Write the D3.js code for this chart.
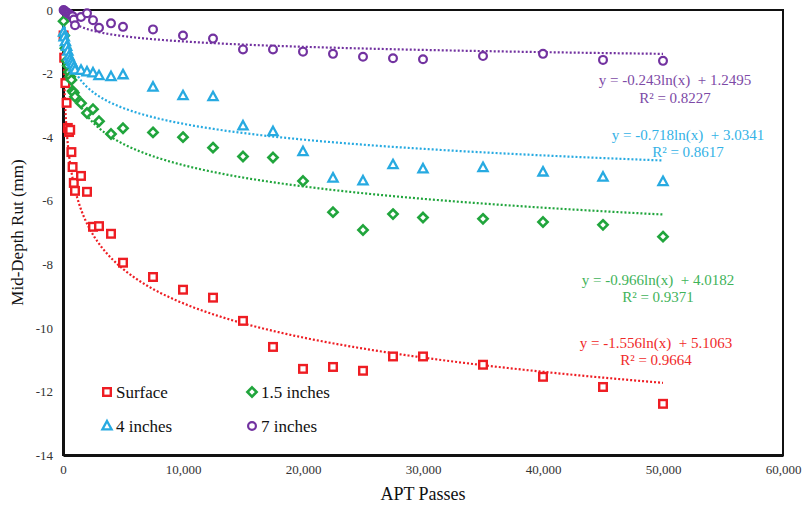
<!DOCTYPE html>
<html>
<head>
<meta charset="utf-8">
<script src="https://cdn.jsdelivr.net/npm/d3@7"></script>
<style>
  html, body { margin: 0; padding: 0; background: #fff; }
  svg { display: block; font-family: "Liberation Serif", "Times New Roman", serif; }
  .axis text { font-family: "Liberation Serif", "Times New Roman", serif; }
</style>
</head>
<body>
<svg id="chart" width="802" height="508"></svg>
<script>
// APT pass counts at which rut depth was measured
const passes = [50, 100, 200, 300, 400, 500, 600, 700, 800, 900, 1000, 1500, 2000, 2500, 3000, 4000,
  5000, 7500, 10000, 12500, 15000, 17500, 20000, 22500, 25000, 27500, 30000, 35000, 40000, 45000, 50000];

// Mid-depth rut (mm) at each depth
const surface = [-0.8, -1.5, -2.3, -2.92, -3.71, -3.84, -3.77, -4.47, -4.94, -5.44, -5.69, -5.22, -5.72, -6.82, -6.8, -7.04,
  -7.95, -8.4, -8.8, -9.05, -9.78, -10.6, -11.29, -11.23, -11.35, -10.9, -10.9, -11.16, -11.54, -11.86, -12.39];
const inch15 = [-0.35, -0.8, -1.2, -1.6, -1.75, -1.95, -2.1, -2.2, -2.55, -2.6, -2.73, -2.93, -3.24, -3.12, -3.5, -3.9,
  -3.72, -3.85, -4.0, -4.33, -4.61, -4.64, -5.38, -6.36, -6.92, -6.42, -6.53, -6.57, -6.67, -6.76, -7.13];
const inch4 = [-0.7, -0.85, -1.0, -1.15, -1.3, -1.45, -1.55, -1.63, -1.7, -1.8, -1.89, -1.9, -1.95, -1.98, -2.07, -2.1,
  -2.04, -2.43, -2.7, -2.73, -3.65, -3.83, -4.46, -5.29, -5.38, -4.87, -5.0, -4.96, -5.1, -5.26, -5.4];
const inch7 = [0.0, -0.02, -0.05, -0.08, -0.1, -0.12, -0.15, -0.18, -0.2, -0.3, -0.48, -0.22, -0.1, -0.32, -0.56, -0.42,
  -0.53, -0.61, -0.8, -0.9, -1.24, -1.24, -1.31, -1.38, -1.47, -1.52, -1.55, -1.45, -1.38, -1.57, -1.6];

// Logarithmic trend fits: y = a ln(x) + b
const seriesNames = ["Surface", "1.5 inches", "4 inches", "7 inches"];
const fitA = [-1.556, -0.966, -0.718, -0.243];
const fitB = [5.1063, 4.0182, 3.0341, 1.2495];
const fitR2 = ["0.9664", "0.9371", "0.8617", "0.8227"];

const xTicks = [0, 10000, 20000, 30000, 40000, 50000, 60000];
const yTicks = [0, -2, -4, -6, -8, -10, -12, -14];

const colors = ["#ee1d23", "#20a53c", "#27aae1", "#7232a0"];
const textColors = ["#f02a2a", "#3fb35a", "#34b2e6", "#7d4aa6"];
const shapes = ["square", "diamond", "triangle", "circle"];
const values = [surface, inch15, inch4, inch7];

const svg = d3.select("#chart");
const m = { left: 63, top: 10, right: 19, bottom: 53 };
const W = 802 - m.left - m.right, H = 508 - m.top - m.bottom;

const x = d3.scaleLinear().domain([0, 60000]).range([m.left, m.left + W]);
const y = d3.scaleLinear().domain([-14, 0]).range([m.top + H, m.top]);

svg.append("defs").append("clipPath").attr("id", "plotClip")
  .append("rect").attr("x", m.left).attr("y", m.top).attr("width", W).attr("height", H);

// Plot frame
svg.append("rect").attr("x", m.left).attr("y", m.top).attr("width", W).attr("height", H)
  .attr("fill", "none").attr("stroke", "#111").attr("stroke-width", 2);

// Axes (labels only)
const xAxis = d3.axisBottom(x).tickValues(xTicks).tickSize(0).tickPadding(10)
  .tickFormat(d => d3.format(",")(d));
const gx = svg.append("g").attr("class", "axis").attr("transform", `translate(0,${m.top + H})`).call(xAxis);
gx.attr("font-family", null).attr("font-size", null);
gx.select(".domain").attr("stroke", "#111").attr("stroke-width", 3);
gx.selectAll("text").attr("font-size", 13).attr("fill", "#333");

const yAxis = d3.axisLeft(y).tickValues(yTicks).tickSize(0).tickPadding(10).tickFormat(d => d);
const gy = svg.append("g").attr("class", "axis").attr("transform", `translate(${m.left},0)`).call(yAxis);
gy.attr("font-family", null).attr("font-size", null);
gy.select(".domain").attr("stroke", "#111").attr("stroke-width", 3);
gy.selectAll("text").attr("font-size", 13).attr("fill", "#333");

// Axis titles
svg.append("text").attr("x", m.left + W / 2).attr("y", 500).attr("text-anchor", "middle")
  .attr("font-size", 18).attr("fill", "#111").text("APT Passes");
svg.append("text").attr("transform", `translate(23,${m.top + H / 2}) rotate(-90)`)
  .attr("text-anchor", "middle").attr("font-size", 17).attr("fill", "#111").text("Mid-Depth Rut (mm)");

// Trend lines
const plot = svg.append("g").attr("clip-path", "url(#plotClip)");
const xMin = d3.min(passes), xMax = d3.max(passes);
const samples = d3.range(0, 601).map(i => xMin * Math.pow(xMax / xMin, i / 600));
const line = d3.line().x(d => x(d[0])).y(d => y(d[1]));
fitA.forEach((a, i) => {
  plot.append("path")
    .attr("d", line(samples.map(s => [s, a * Math.log(s) + fitB[i]])))
    .attr("fill", "none").attr("stroke", colors[i]).attr("stroke-width", 2.2)
    .attr("stroke-dasharray", "2 2");
});

// Marker drawing
function marker(g, shape, color) {
  if (shape === "square") {
    g.append("rect").attr("x", -3.8).attr("y", -3.8).attr("width", 7.6).attr("height", 7.6)
      .attr("fill", "#fff").attr("stroke", color).attr("stroke-width", 2.4);
  } else if (shape === "diamond") {
    const r = 4.6;
    g.append("path").attr("d", `M0,${-r}L${r},0L0,${r}L${-r},0Z`)
      .attr("fill", "#fff").attr("stroke", color).attr("stroke-width", 2.6);
  } else if (shape === "triangle") {
    g.append("path").attr("d", "M0,-5L4.6,3.4L-4.6,3.4Z")
      .attr("fill", "#fff").attr("stroke", color).attr("stroke-width", 2.3).attr("stroke-linejoin", "miter");
  } else {
    g.append("circle").attr("r", 3.9).attr("fill", "#fff").attr("stroke", color).attr("stroke-width", 2.2);
  }
}

// Points, drawn deepest series first so shallower ones sit on top
[0, 1, 2, 3].forEach(si => {
  const g = svg.append("g");
  passes.forEach((p, k) => {
    const mg = g.append("g").attr("transform", `translate(${x(p)},${y(values[si][k])})`);
    marker(mg, shapes[si], colors[si]);
  });
});

// Fit equations
const eqPos = [
  { cx: 656, y1: 348, y2: 365 },
  { cx: 658, y1: 285, y2: 302 },
  { cx: 688, y1: 140, y2: 157 },
  { cx: 675, y1: 85, y2: 103 }
];
eqPos.forEach((p, i) => {
  const a = fitA[i].toFixed(3);
  svg.append("text").attr("x", p.cx).attr("y", p.y1).attr("text-anchor", "middle")
    .attr("font-size", 15).attr("fill", textColors[i]).attr("xml:space", "preserve")
    .text(`y = ${a}ln(x)  + ${fitB[i].toFixed(4)}`);
  svg.append("text").attr("x", p.cx).attr("y", p.y2).attr("text-anchor", "middle")
    .attr("font-size", 15).attr("fill", textColors[i])
    .text(`R² = ${fitR2[i]}`);
});

// Legend
const legendPos = [[107, 392], [252, 392], [107, 426], [252, 426]];
seriesNames.forEach((name, i) => {
  const g = svg.append("g").attr("transform", `translate(${legendPos[i][0]},${legendPos[i][1]})`);
  marker(g, shapes[i], colors[i]);
  g.append("text").attr("x", 9).attr("y", 6).attr("font-size", 17).attr("fill", "#111").text(name);
});
</script>
</body>
</html>
